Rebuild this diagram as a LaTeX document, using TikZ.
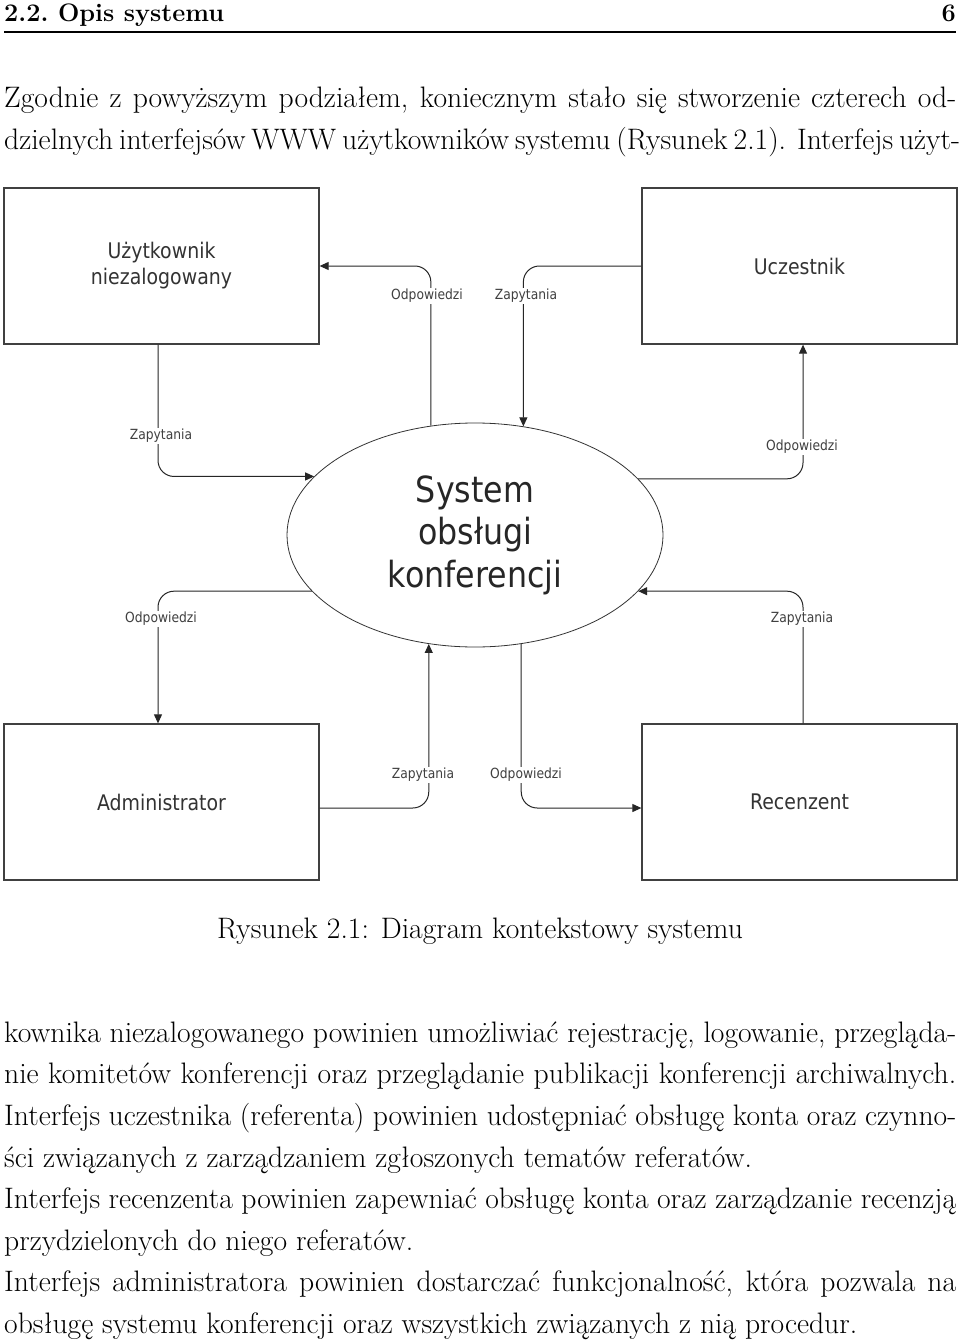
\documentclass[tikz,border=0pt]{standalone}
\usepackage{fontspec}
\newfontfamily\dg{DejaVu Sans}[FakeStretch=0.88]
\usetikzlibrary{arrows.meta,shapes.geometric}
\begin{document}
\begin{tikzpicture}[x=1pt,y=-1pt,
  body/.style={anchor=base west, inner sep=0pt, font=\fontsize{29.6}{41.6}\selectfont},
  entity/.style={draw=black!75, line width=1.3pt, minimum width=315pt, minimum height=156pt, inner sep=0pt, align=center, font=\dg\fontsize{21.5}{26}\selectfont, text=black!80},
  proc/.style={ellipse, draw=black!80, line width=0.8pt, minimum width=376pt, minimum height=224pt, inner sep=0pt, align=center, font=\dg\fontsize{36}{42.5}\selectfont, text=black!85},
  flow/.style={draw=black!85, line width=1pt, rounded corners=16pt, -{Triangle[length=9pt,width=8pt]}},
  lbl/.style={fill=white, inner sep=1.5pt, font=\dg\fontsize{14}{16}\selectfont, text=black!75}
]
\useasboundingbox (0,0) rectangle (960,1340);
\fill[white] (0,0) rectangle (960,1340);

% header
\node[anchor=base west, inner sep=0pt, font=\bfseries\fontsize{25.3}{28}\selectfont] (hd) at (4,22) {\frenchspacing 2.2. Opis systemu};
\node[anchor=base east, inner sep=0pt, font=\bfseries\fontsize{25.3}{28}\selectfont] (pg) at (956,22) {6};
\draw[line width=1.6pt] (4,32) -- (956,32);

% text above
\node[body] (p1) at (4,108) {\makebox[952pt][s]{Zgodnie z powyższym podziałem, koniecznym stało się stworzenie czterech od-}};
\node[body] (p2) at (4,149.5) {\makebox[952pt][s]{dzielnych interfejsów WWW użytkowników systemu (Rysunek 2.1). Interfejs użyt-}};

% diagram
\node[entity] (un) at (161.5,266) {Użytkownik\\niezalogowany};
\node[entity] (uc) at (799.5,266) {Uczestnik};
\node[entity] (ad) at (161.5,802) {Administrator};
\node[entity] (re) at (799.5,802) {Recenzent};
\node[proc] (sys) at (475,535) {System\\obsługi\\konferencji};

\draw[flow] (sys.112.95) |- (un.east);
\draw[flow] ([xshift=-3.5pt]un.south) |- (sys.160.19);
\draw[flow] (uc.west) -| (sys.66.56);
\draw[flow] (sys.19.81) -| ([xshift=3.5pt]uc.south);
\draw[flow] (sys.199.81) -| ([xshift=-3.5pt]ad.north);
\draw[flow] ([yshift=-6pt]ad.east) -| (sys.247.05);
\draw[flow] ([xshift=3.5pt]re.north) |- (sys.-19.81);
\draw[flow] (sys.293.44) |- ([yshift=-6pt]re.west);

\node[lbl] (l1) at (427,296) {Odpowiedzi};
\node[lbl] (l2) at (161,436) {Zapytania};
\node[lbl] (l3) at (526,296) {Zapytania};
\node[lbl] (l4) at (802,447) {Odpowiedzi};
\node[lbl] (l5) at (161,619) {Odpowiedzi};
\node[lbl] (l6) at (423,775) {Zapytania};
\node[lbl] (l7) at (802,619) {Zapytania};
\node[lbl] (l8) at (526,775) {Odpowiedzi};

% caption
\node[anchor=base, inner sep=0pt, font=\fontsize{29.6}{41.6}\selectfont] (cap) at (480,938) {Rysunek 2.1: Diagram kontekstowy systemu};

% text below
\node[body] (q1) at (4,1042) {\makebox[952pt][s]{kownika niezalogowanego powinien umożliwiać rejestrację, logowanie, przegląda-}};
\node[body] (q2) at (4,1083.5) {\makebox[952pt][s]{nie komitetów konferencji oraz przeglądanie publikacji konferencji archiwalnych.}};
\node[body] (q3) at (4,1125) {\makebox[952pt][s]{Interfejs uczestnika (referenta) powinien udostępniać obsługę konta oraz czynno-}};
\node[body] (q4) at (4,1167) {ści związanych z zarządzaniem zgłoszonych tematów referatów.};
\node[body] (q5) at (4,1208.5) {\makebox[952pt][s]{Interfejs recenzenta powinien zapewniać obsługę konta oraz zarządzanie recenzją}};
\node[body] (q6) at (4,1250) {przydzielonych do niego referatów.};
\node[body] (q7) at (4,1291.5) {\makebox[952pt][s]{Interfejs administratora powinien dostarczać funkcjonalność, która pozwala na}};
\node[body] (q8) at (4,1333) {obsługę systemu konferencji oraz wszystkich związanych z nią procedur.};
\end{tikzpicture}
\end{document}
